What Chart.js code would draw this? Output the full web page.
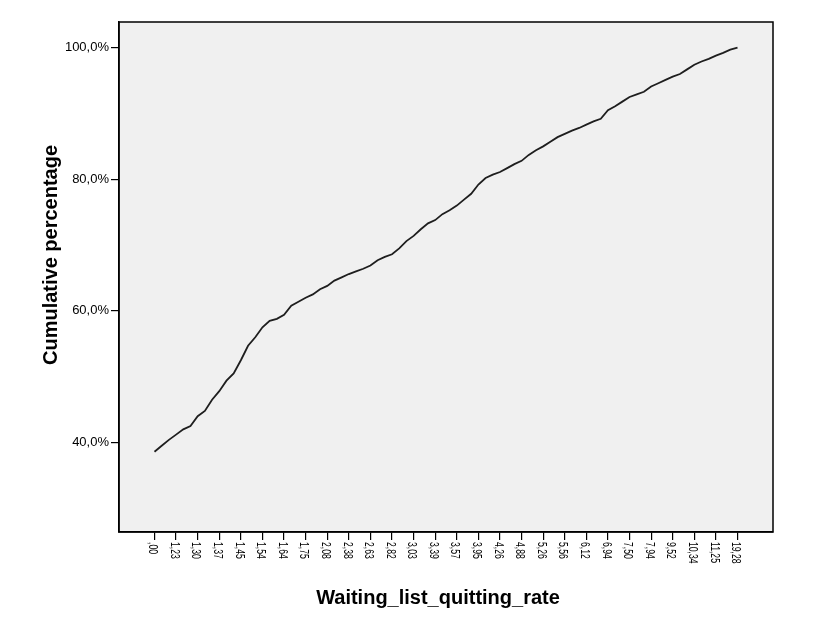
<!DOCTYPE html>
<html>
<head>
<meta charset="utf-8">
<title>Cumulative percentage</title>
<script src="https://cdn.jsdelivr.net/npm/chart.js@4.4.0/dist/chart.umd.min.js"></script>
<style>
  body { margin: 0; background: #fff; }
</style>
</head>
<body>
<canvas id="chart" width="826" height="621"></canvas>
<script>
// labelled categories (every third value of the rate is shown on the axis)
const tickLabels = [",00", "1,23", "1,30", "1,37", "1,45", "1,54", "1,64", "1,75", "2,08", "2,38",
  "2,63", "2,82", "3,03", "3,39", "3,57", "3,95", "4,26", "4,88", "5,26", "5,56",
  "6,12", "6,94", "7,50", "7,94", "9,52", "10,34", "11,25", "19,28"];
const labelEvery = 3;

// cumulative percentage, one value per category
const cumulativePct = [38.6, 39.5, 40.4, 41.2, 42.0, 42.5, 44.0, 44.8, 46.5, 47.8,
  49.4, 50.5, 52.5, 54.7, 56.0, 57.5, 58.5, 58.8, 59.4, 60.8,
  61.4, 62.0, 62.5, 63.3, 63.8, 64.6, 65.1, 65.6, 66.0, 66.4,
  66.9, 67.7, 68.2, 68.6, 69.5, 70.6, 71.4, 72.4, 73.3, 73.8,
  74.7, 75.3, 76.0, 76.9, 77.8, 79.2, 80.2, 80.7, 81.1, 81.7,
  82.3, 82.8, 83.7, 84.4, 85.0, 85.7, 86.4, 86.9, 87.4, 87.8,
  88.3, 88.8, 89.2, 90.5, 91.1, 91.8, 92.5, 92.9, 93.3, 94.1,
  94.6, 95.1, 95.6, 96.0, 96.7, 97.4, 97.9, 98.3, 98.8, 99.2,
  99.7, 100.0];

const yTicks = [40, 60, 80, 100];

const fmtPct = (v) => v.toFixed(1).replace(".", ",") + "%";

const framePlugin = {
  id: "frame",
  beforeDraw(chart) {
    const { ctx, chartArea: a } = chart;
    ctx.save();
    ctx.fillStyle = "#f0f0f0";
    ctx.fillRect(a.left, a.top, a.right - a.left, a.bottom - a.top);
    ctx.restore();
  },
  afterDraw(chart) {
    const { ctx, chartArea: a } = chart;
    const xScale = chart.scales.x;
    ctx.save();
    ctx.strokeStyle = "#000";
    ctx.lineWidth = 1.5;
    ctx.strokeRect(a.left, a.top, a.right - a.left, a.bottom - a.top);

    // x tick labels, turned clockwise like the original
    ctx.fillStyle = "#000";
    ctx.font = "12px 'Liberation Sans', Arial, sans-serif";
    ctx.textAlign = "left";
    ctx.textBaseline = "middle";
    tickLabels.forEach((label, i) => {
      const px = xScale.getPixelForValue(i * labelEvery);
      ctx.save();
      ctx.translate(px - 2, a.bottom + 10);
      ctx.rotate(Math.PI / 2);
      ctx.scale(0.72, 1);
      ctx.fillText(label, 0, 0);
      ctx.restore();
    });

    // axis titles
    ctx.font = "bold 20px 'Liberation Sans', Arial, sans-serif";
    ctx.textAlign = "center";
    ctx.fillText("Waiting_list_quitting_rate", 438, 598);
    ctx.translate(51, 255);
    ctx.rotate(-Math.PI / 2);
    ctx.fillText("Cumulative percentage", 0, 0);
    ctx.restore();
  },
};

new Chart(document.getElementById("chart"), {
  type: "line",
  data: {
    datasets: [
      {
        data: cumulativePct.map((v, i) => ({ x: i, y: v })),
        borderColor: "#1e1e1e",
        borderWidth: 1.8,
        pointRadius: 0,
        tension: 0,
        fill: false,
      },
    ],
  },
  options: {
    responsive: false,
    animation: false,
    layout: { padding: { left: 0, top: 22, right: 53, bottom: 0 } },
    plugins: {
      legend: { display: false },
      tooltip: { enabled: false },
    },
    scales: {
      x: {
        type: "linear",
        min: -4.93,
        max: (tickLabels.length - 1) * labelEvery + 4.93,
        afterBuildTicks: (scale) => {
          scale.ticks = tickLabels.map((_, i) => ({ value: i * labelEvery }));
        },
        afterFit: (scale) => {
          scale.height = 89;
        },
        ticks: { display: false },
        grid: {
          drawOnChartArea: false,
          drawTicks: true,
          tickLength: 8,
          color: "#000",
          lineWidth: 1.2,
        },
        border: { display: true, color: "#000", width: 1.5 },
      },
      y: {
        min: 26.4,
        max: 103.9,
        afterBuildTicks: (scale) => {
          scale.ticks = yTicks.map((v) => ({ value: v }));
        },
        afterFit: (scale) => {
          scale.width = 119;
        },
        ticks: {
          color: "#000",
          padding: 2,
          font: { family: "'Liberation Sans', Arial, sans-serif", size: 13 },
          callback: (v) => fmtPct(v),
        },
        grid: {
          drawOnChartArea: false,
          drawTicks: true,
          tickLength: 8,
          color: "#000",
          lineWidth: 1.2,
        },
        border: { display: true, color: "#000", width: 1.5 },
      },
    },
  },
  plugins: [framePlugin],
});
</script>
</body>
</html>
